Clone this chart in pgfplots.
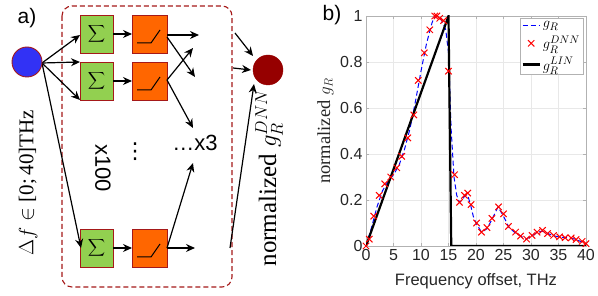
\documentclass[border=0pt]{standalone}
\usepackage{exscale}
\usepackage{fontspec}
\setmainfont{Liberation Serif}
\setsansfont{Liberation Sans}
\newfontfamily\dejavu{DejaVu Sans}
\usepackage{pgfplots}
\pgfplotsset{compat=1.18}
\usetikzlibrary{arrows.meta}
\definecolor{dred}{RGB}{165,25,25}
\definecolor{bgreen}{RGB}{146,208,80}
\definecolor{borange}{RGB}{255,102,0}
\definecolor{nblue}{RGB}{50,50,245}
\definecolor{outred}{RGB}{150,0,0}
\definecolor{tickgray}{RGB}{38,38,38}
\begin{document}
\begin{tikzpicture}
\useasboundingbox (0,0) rectangle (598pt,296pt);
\begin{scope}[x=1pt,y=1pt,shift={(0,296)},yscale=-1,
  arr/.style={-{Stealth[length=9pt,width=8pt]},line width=1.2pt,black}]
  % dashed frame
  \draw[dred,line width=1.1pt,rounded corners=10pt,dash pattern=on 5pt off 3pt] (62,6) rectangle (232,287);
  % boxes
  \foreach \y in {15,62,229}{
    \draw[dred,fill=bgreen,line width=0.9pt] (80,\y) rectangle (113,\y+38);
    \node at (96.5,\y+19) {\fontsize{13}{13}\selectfont$\displaystyle\sum$};
    \draw[dred,fill=borange,line width=0.9pt] (132,\y) rectangle (167,\y+38);
    \draw[black,line width=1pt] (137,\y+28) -- (151,\y+28) -- (160,\y+15);
    \draw[arr] (113,\y+19) -- (132,\y+19);
  }
  % outputs of layer
  \draw[arr] (167,35) -- (199,35);
  \draw[arr] (167,37) -- (195,77);
  \draw[arr] (167,80) -- (193,48);
  \draw[arr] (167,80) -- (193,128);
  \draw[arr] (167,248) -- (195,248);
  \draw[arr] (167,248) -- (193,163);
  % input arrows
  \draw[arr] (42,63) -- (80,35);
  \draw[arr] (42,63) -- (80,62);
  \draw[arr] (42,63) -- (80,100);
  \draw[arr] (42,63) -- (81,248);
  % output arrows
  \draw[arr] (235,33) -- (253,56);
  \draw[arr] (233,68) -- (251,70);
  \draw[arr] (230,248) -- (254,84);
  % circles
  \draw[dred,fill=nblue,line width=0.9pt] (27,62) circle (15);
  \draw[outred,fill=outred] (268,70) circle (15);
  % texts
  \node at (27,18) {\sffamily\fontsize{21}{21}\selectfont a)};
  \node at (332,15) {\sffamily\fontsize{21}{21}\selectfont b)};
  \node[rotate=-90] at (103,168) {\sffamily\fontsize{22}{22}\selectfont x100};
  \node at (135,152) {\dejavu\fontsize{22}{22}\selectfont ⋮};
  \node at (195,143) {\sffamily\fontsize{22}{22}\selectfont …x3};
  \node[rotate=90] at (28,183) {\fontsize{21}{21}\selectfont$\Delta f\in{}$[0;\,40]THz};
  \node[rotate=90] at (269,178) {\fontsize{25}{25}\selectfont normalized $g_R^{DNN}$};
\end{scope}
\begin{axis}[at={(366pt,50pt)}, anchor=south west, scale only axis,
  width=220pt, height=230pt,
  xmin=0, xmax=40, ymin=0, ymax=1,
  xtick={0,5,10,15,20,25,30,35,40},
  ytick={0,0.2,0.4,0.6,0.8,1},
  yticklabels={0,0.2,0.4,0.6,0.8,1},
  grid=major, major grid style={gray!18},
  axis line style={gray!60}, tick style={gray!60},
  tick align=inside, major tick length=3pt,
  /pgf/number format/assume math mode=true,
  ticklabel style={font=\sffamily\fontsize{16}{16}\selectfont, text=tickgray},
  xlabel={Frequency offset, THz},
  xlabel style={font=\sffamily\fontsize{16.5}{16.5}\selectfont, text=tickgray, yshift=-6pt},
  ylabel={normalized $g_R$},
  ylabel style={font=\fontsize{18.5}{18.5}\selectfont, text=tickgray, yshift=0pt},
  legend style={at={(0.987,0.99)}, anchor=north east, draw=gray!60, fill=white,
    font=\fontsize{15}{15}\selectfont, row sep=3pt, inner sep=1pt},
  legend cell align=left,
]
\addplot[blue, line width=1pt, dash pattern=on 5pt off 3pt] coordinates {
(0,0) (1,0.08) (2,0.17) (3,0.24) (4,0.28) (5,0.31) (6,0.35) (7,0.42) (8,0.51)
(9,0.63) (10,0.76) (11,0.88) (12,0.97) (12.5,1.0) (13,1.0) (13.5,0.99) (14,0.97)
(14.5,0.94) (15,0.84) (15.5,0.5) (16,0.3) (16.5,0.22) (17,0.19) (17.5,0.2)
(18,0.22) (18.5,0.22) (19,0.18) (19.5,0.13) (20,0.1) (21,0.06) (22,0.075)
(23,0.12) (24,0.17) (25,0.13) (26,0.08) (27,0.06) (28,0.045) (29,0.03)
(30,0.04) (31,0.058) (32,0.065) (33,0.055) (34,0.045) (35,0.04) (36,0.037)
(37,0.035) (38,0.03) (39,0.02) (40,0.01)};
\addlegendentry{$g_R$}
\addplot[red, only marks, mark=x, mark size=4.5pt, line width=1pt] coordinates {
(0,0) (0.6,0.03) (1.4,0.13) (2.4,0.22) (3.4,0.27) (4.5,0.30) (5.6,0.34)
(6.5,0.39) (7.6,0.47) (8.7,0.57) (9.5,0.72) (10.6,0.84) (11.6,0.94) (12.5,1.0)
(12.9,1.0) (13.4,0.99) (14.1,0.98) (15.0,0.76) (16.1,0.31) (17.0,0.19)
(17.9,0.22) (18.5,0.23) (19.1,0.18) (20.1,0.10) (21.0,0.06) (22.0,0.08)
(22.9,0.12) (24.1,0.17) (25.0,0.14) (25.9,0.085) (27.2,0.06) (28.1,0.043)
(29.2,0.03) (30.2,0.046) (31.1,0.06) (32.1,0.068) (33.0,0.054) (34.1,0.046)
(35.2,0.04) (36.2,0.036) (37.3,0.035) (38.2,0.028) (39.3,0.02) (40,0.01)};
\addlegendentry{$g_R^{DNN}$}
\addplot[black, line width=2.2pt] coordinates {(0,0) (15,1) (15.5,0) (40,0)};
\addlegendentry{$g_R^{LIN}$}
\end{axis}
\end{tikzpicture}
\end{document}
